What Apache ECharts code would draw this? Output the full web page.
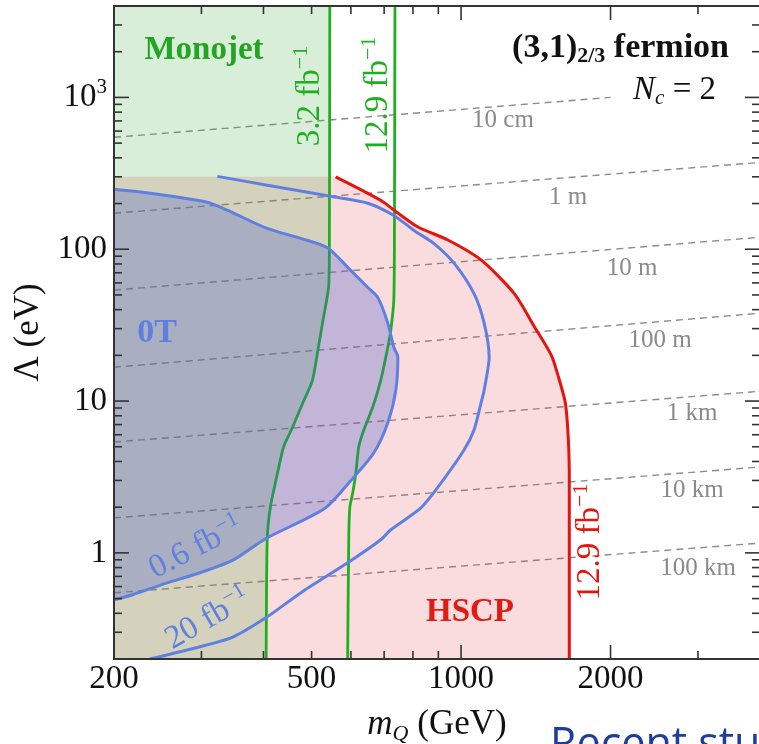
<!DOCTYPE html>
<html>
<head>
<meta charset="utf-8">
<script src="https://cdn.jsdelivr.net/npm/echarts@6/dist/echarts.min.js"></script>
<style>
html, body { margin: 0; padding: 0; background: #fff; }
#main { width: 759px; height: 744px; }
</style>
</head>
<body>
<div id="main"></div>
<script>
// bounds of the plot (m_Q in GeV, Lambda in eV)
var xMin = 200, xMax = 4000, yMin = 0.2, yMax = 4000;

// ticks
var xMinorTicks = [200, 300, 400, 500, 600, 700, 800, 900, 3000];
var xMajorTicks = [1000, 2000];
var xTickLabels = [200, 500, 1000, 2000];
var yMinorTicks = [0.2, 0.3, 0.4, 0.5, 0.6, 0.7, 0.8, 0.9, 2, 3, 4, 5, 6, 7, 8, 9,
    20, 30, 40, 50, 60, 70, 80, 90, 200, 300, 400, 500, 600, 700, 800, 900, 2000, 3000];
var yMajorTicks = [1, 10, 100, 1000];
var yTickLabels = [1, 10, 100, 1000];

// monojet limits
var monojet32 = [[544, 4000], [543, 100], [541, 56], [526, 32.6], [516, 22.6], [502, 13.7], [480, 9.7],
    [458, 6.74], [439, 4.98], [427, 3.36], [413, 2.0], [407, 1.22], [405, 0.2]];
var monojet129 = [[736, 4000], [734, 100], [732, 46], [722, 29.3], [712, 22.6], [689, 13.7], [664, 9.13],
    [637, 6.45], [622, 4.98], [614, 3.36], [605, 2.48], [597, 2.0], [594, 1.22], [591, 0.2]];

// HSCP limit
var hscpTop = 300;
var hscp129 = [[559, 300], [689, 210], [746, 173], [819, 140], [941, 115], [1097, 85], [1280, 51],
    [1404, 31], [1520, 20], [1571, 14.4], [1622, 9.7], [1645, 5.5], [1652, 3.0], [1652, 0.2]];

// 0T contours
var zeroT06 = [[200, 248], [236, 234], [308, 204], [338, 181], [407, 137], [475, 118], [539, 102],
    [591, 76], [649, 56], [680, 48], [712, 32.6], [732, 22.6], [746, 19.5], [739, 11.8], [712, 7.2],
    [667, 4.55], [600, 3.0], [530, 1.95], [404, 1.24], [348, 0.9], [298, 0.74], [256, 0.635],
    [218, 0.53], [200, 0.49]];
var zeroT20 = [[323, 302], [407, 264], [491, 237], [546, 223], [649, 201], [732, 167], [804, 133],
    [882, 109], [968, 81], [1062, 51], [1113, 32.6], [1139, 19.5], [1113, 11.8], [1097, 9.7],
    [1062, 6.45], [1014, 4.76], [899, 2.72], [830, 1.98], [722, 1.42], [689, 1.22], [591, 0.86],
    [475, 0.545], [407, 0.379], [348, 0.28], [298, 0.241], [236, 0.2]];

// decay length contours
var decayNames = ['10 cm', '1 m', '10 m', '100 m', '1 km', '10 km', '100 km'];
var decayLeft = [546, 172.6, 53.8, 16.7, 5.37, 1.70, 0.546];
var decayRight = [1000, 373, 120, 37.9, 11.6, 3.68, 1.16];
var decayRightM = [2000, 4000, 4000, 4000, 4000, 4000, 4000];

var SERIF = '"Liberation Serif", "DejaVu Serif", serif';
var GREEN = '#1fb01f', BLUE = '#6080e0', RED = '#e3150e', GRAY = '#8c8c8c';

var myChart = echarts.init(document.getElementById('main'));

function areaSeries(points, color, z) {
    return {
        type: 'custom', z: z, silent: true, data: [points[0]],
        renderItem: function (params, api) {
            return {
                type: 'polygon',
                shape: { points: points.map(function (p) { return api.coord(p); }) },
                style: { fill: color }
            };
        }
    };
}

function lineSeries(points, color, width, z, smooth) {
    return {
        type: 'line', z: z, silent: true, symbol: 'none', data: points, smooth: smooth || false,
        lineStyle: { color: color, width: width, join: 'round' }
    };
}

function frameItem(params, api) {
    var tl = api.coord([xMin, yMax]), br = api.coord([xMax, yMin]);
    var kids = [];
    function seg(x1, y1, x2, y2) {
        kids.push({ type: 'line', shape: { x1: x1, y1: y1, x2: x2, y2: y2 },
            style: { stroke: '#333', lineWidth: 1.6 } });
    }
    function xTicks(list, len) {
        list.forEach(function (v) {
            var x = api.coord([v, yMin])[0];
            seg(x, br[1], x, br[1] - len);
            seg(x, tl[1], x, tl[1] + len);
        });
    }
    function yTicks(list, len) {
        list.forEach(function (v) {
            var y = api.coord([xMin, v])[1];
            seg(tl[0], y, tl[0] + len, y);
            seg(br[0], y, br[0] - len, y);
        });
    }
    xTicks(xMinorTicks, 8);
    xTicks(xMajorTicks, 14);
    yTicks(yMinorTicks, 8);
    yTicks(yMajorTicks, 15);
    kids.push({ type: 'rect', shape: { x: tl[0], y: tl[1], width: br[0] - tl[0], height: br[1] - tl[1] },
        style: { fill: 'none', stroke: '#333', lineWidth: 2 } });
    xTickLabels.forEach(function (v) {
        var x = api.coord([v, yMin])[0];
        kids.push({ type: 'text', x: x, y: br[1] + 4,
            style: { text: String(v), fontSize: 33, fontFamily: SERIF, fill: '#111',
                align: 'center', verticalAlign: 'top' } });
    });
    yTickLabels.forEach(function (v) {
        var y = api.coord([xMin, v])[1];
        var txt = v === 1000 ? '{b|10}{s|3}' : '{b|' + v + '}';
        kids.push({ type: 'text', x: tl[0] - 7, y: y,
            style: { text: txt, fill: '#111', align: 'right', verticalAlign: 'middle',
                rich: {
                    b: { fontSize: 33, fontFamily: SERIF, lineHeight: 40 },
                    s: { fontSize: 21, fontFamily: SERIF, lineHeight: 18, verticalAlign: 'top' }
                } } });
    });
    return { type: 'group', children: kids };
}

function label(text, x, y, color, size, opts) {
    opts = opts || {};
    return {
        type: 'text', x: x, y: y, z: 100, silent: true,
        rotation: (opts.rot || 0) * Math.PI / 180,
        style: {
            text: text, fill: color, align: opts.align || 'center', verticalAlign: 'middle',
            fontSize: size, fontFamily: SERIF, fontWeight: opts.bold ? 'bold' : 'normal',
            rich: {
                a: { fontSize: size, fontFamily: SERIF, lineHeight: size + 6 },
                s: { fontSize: Math.round(size * 0.66), fontFamily: SERIF, lineHeight: 18, verticalAlign: 'top' }
            }
        }
    };
}

var series = [];
decayNames.forEach(function (name, i) {
    series.push({
        type: 'line', z: 0, silent: true, symbol: 'none', name: name,
        data: [[xMin, decayLeft[i]], [decayRightM[i], decayRight[i]]],
        lineStyle: { color: GRAY, width: 1.4, type: [7, 5] }
    });
});
// HSCP (pink) under the monojet (green) fill
series.push(areaSeries([[xMin, hscpTop]].concat(hscp129, [[xMin, yMin]]), 'rgba(230,60,70,0.18)', 1));
series.push(areaSeries([[xMin, yMax]].concat(monojet32, [[xMin, yMin]]), 'rgba(60,170,60,0.2)', 2));
series.push(lineSeries(monojet32, GREEN, 2.8, 3, 0.2));
series.push(lineSeries(monojet129, GREEN, 2.8, 3, 0.2));
series.push(areaSeries(zeroT06, 'rgba(70,93,202,0.3)', 5));
series.push(lineSeries(zeroT06, BLUE, 3, 6, 0.25));
series.push(lineSeries(zeroT20, BLUE, 3, 6, 0.25));
series.push(lineSeries(hscp129, RED, 3, 7, 0.25));
series.push({ type: 'custom', z: 8, silent: true, data: [[1000, 1]], renderItem: frameItem });

var graphics = [
    label('Monojet', 204, 50, '#23a523', 33, { bold: true }),
    label('0T', 157, 333, '#5f7fdf', 34, { bold: true }),
    label('HSCP', 470, 612, '#e01b14', 33, { bold: true }),
    label('{a|3.2 fb}{s|\u22121}', 310, 96, GREEN, 33, { rot: 90 }),
    label('{a|12.9 fb}{s|\u22121}', 378, 95, GREEN, 33, { rot: 90 }),
    label('{a|12.9 fb}{s|\u22121}', 590, 542, RED, 33, { rot: 90 }),
    label('{a|0.6 fb}{s|\u22121}', 196, 548, BLUE, 33, { rot: 27 }),
    label('{a|20 fb}{s|\u22121}', 208, 619, BLUE, 33, { rot: 30 }),
    {
        type: 'text', x: 729, y: 48, z: 100, silent: true,
        style: {
            text: '{b|(3,1)}{u|2/3}{b| fermion}', fill: '#111', align: 'right', verticalAlign: 'middle',
            rich: {
                b: { fontSize: 34, fontFamily: SERIF, fontWeight: 'bold', lineHeight: 38 },
                u: { fontSize: 22, fontFamily: SERIF, fontWeight: 'bold', lineHeight: 18, verticalAlign: 'bottom' }
            }
        }
    },
    {
        type: 'text', x: 716, y: 90, z: 100, silent: true,
        style: {
            text: '{n|N}{c|c}{r| = 2}', fill: '#111', align: 'right', verticalAlign: 'middle',
            rich: {
                n: { fontSize: 33, fontFamily: SERIF, fontStyle: 'italic', lineHeight: 38 },
                c: { fontSize: 21, fontFamily: SERIF, fontStyle: 'italic', lineHeight: 16, verticalAlign: 'bottom' },
                r: { fontSize: 33, fontFamily: SERIF, lineHeight: 38 }
            }
        }
    },
    {
        type: 'text', x: 550, y: 724, z: 100, silent: true,
        style: { text: 'Recent studies', fill: '#1f3d9c', fontSize: 43,
            fontFamily: '"Open Sans", "Noto Sans", sans-serif', align: 'left', verticalAlign: 'top' }
    }
];
var decayLabelPos = [[503, 120], [568, 197], [632, 268], [660, 340], [692, 413], [692, 490], [698, 568]];
decayNames.forEach(function (name, i) {
    graphics.push(label(name, decayLabelPos[i][0], decayLabelPos[i][1], '#8a8a8a', 25));
});

var option = {
    animation: false,
    backgroundColor: '#fff',
    grid: { left: 114, top: 6, width: 646, height: 653, containLabel: false, outerBoundsMode: 'none' },
    xAxis: {
        type: 'log', logBase: 10, min: xMin, max: xMax,
        axisLine: { show: false }, axisTick: { show: false }, axisLabel: { show: false },
        splitLine: { show: false }, minorTick: { show: false },
        name: '{i|m}{q|Q}{r| (GeV)}', nameLocation: 'middle', nameGap: 46,
        nameTextStyle: {
            color: '#111',
            rich: {
                i: { fontSize: 35, fontFamily: SERIF, fontStyle: 'italic', lineHeight: 40 },
                q: { fontSize: 22, fontFamily: SERIF, fontStyle: 'italic', lineHeight: 20, verticalAlign: 'bottom' },
                r: { fontSize: 35, fontFamily: SERIF, lineHeight: 40 }
            }
        }
    },
    yAxis: {
        type: 'log', logBase: 10, min: yMin, max: yMax,
        axisLine: { show: false }, axisTick: { show: false }, axisLabel: { show: false },
        splitLine: { show: false }, minorTick: { show: false },
        name: '\u039b (eV)', nameLocation: 'middle', nameGap: 68,
        nameTextStyle: { color: '#111', fontSize: 35, fontFamily: SERIF }
    },
    graphic: graphics,
    series: series
};
myChart.setOption(option);
window.addEventListener('resize', function () {
    myChart.resize();
});
</script>
</body>
</html>
